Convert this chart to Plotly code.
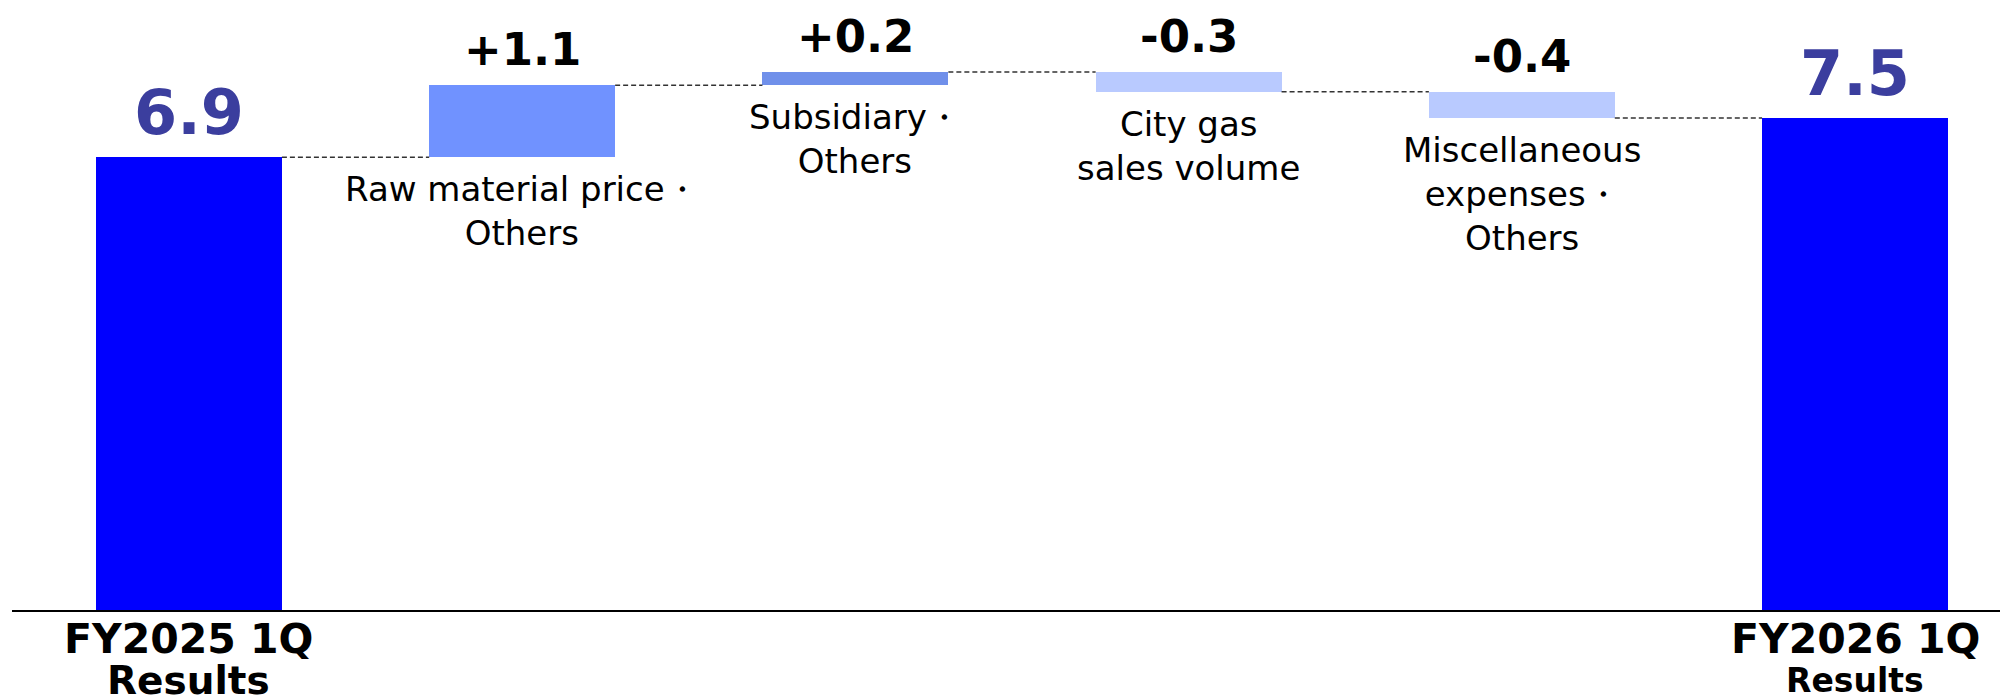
import plotly.graph_objects as go

# ---- data ----
categories = ["FY2025 1Q Results", "Raw material price・Others", "Subsidiary・Others",
              "City gas sales volume", "Miscellaneous expenses・Others", "FY2026 1Q Results"]
values = [6.9, 1.1, 0.2, -0.3, -0.4, 7.5]
measures = ["absolute", "relative", "relative", "relative", "relative", "total"]
value_labels = ["6.9", "+1.1", "+0.2", "-0.3", "-0.4", "7.5"]
desc_labels = [None, "Raw material price・<br>Others", "Subsidiary・<br>Others",
               "City gas<br>sales volume", "Miscellaneous<br>expenses・<br>Others", None]
tick_line1 = ["FY2025 1Q", None, None, None, None, "FY2026 1Q"]
tick_line2 = ["Results", None, None, None, None, "Results"]

# ---- styles ----
bar_colors = ["#0000FF", "#7092FF", "#7090EA", "#B9CAFF", "#B9CAFF", "#0000FF"]
total_label_color = "#3B3E9E"
FONT = "DejaVu Sans"
BAR_W = 0.558

# compute floating bars
bases, heights, tops, bottoms = [], [], [], []
running = 0.0
for v, m in zip(values, measures):
    if m == "relative":
        b = running
        running = running + v
        bases.append(b)
        heights.append(v)
    else:
        running = v
        bases.append(0)
        heights.append(v)
    lo, hi = sorted([bases[-1], bases[-1] + heights[-1]])
    bottoms.append(lo)
    tops.append(hi)

xs = list(range(len(categories)))

fig = go.Figure()
fig.add_trace(go.Bar(
    x=xs, y=heights, base=bases, width=BAR_W,
    marker=dict(color=bar_colors, line=dict(width=0)),
    hoverinfo="skip", showlegend=False,
))

# connectors
levels = []
running = 0.0
for v, m in zip(values, measures):
    running = running + v if m == "relative" else v
    levels.append(running)
for i in range(len(xs) - 1):
    fig.add_shape(type="line", xref="x", yref="y",
                  x0=xs[i] + BAR_W / 2, x1=xs[i + 1] - BAR_W / 2,
                  y0=levels[i], y1=levels[i],
                  line=dict(color="#333333", width=1.5, dash="5px,3px"))

annotations = []
for i in xs:
    is_total = measures[i] != "relative"
    annotations.append(dict(
        x=xs[i], y=tops[i], xref="x", yref="y", text=value_labels[i],
        showarrow=False, yanchor="bottom", xanchor="center",
        yshift=6 if is_total else 7,
        font=dict(family=FONT, size=62 if is_total else 45,
                  color=total_label_color if is_total else "#000000",
                  weight="bold"),
    ))
    if desc_labels[i]:
        annotations.append(dict(
            x=xs[i], y=bottoms[i], xref="x", yref="y", text=desc_labels[i],
            showarrow=False, yanchor="top", xanchor="center", yshift=-10,
            font=dict(family=FONT, size=34, color="#000000"),
        ))
    if tick_line1[i]:
        annotations.append(dict(
            x=xs[i], y=0, xref="x", yref="y", text=tick_line1[i],
            showarrow=False, yanchor="top", xanchor="center", yshift=-3,
            height=44, valign="top",
            font=dict(family=FONT, size=41, color="#000000", weight="bold"),
        ))
    if tick_line2[i]:
        small = i == len(xs) - 1
        annotations.append(dict(
            x=xs[i], y=0, xref="x", yref="y", text=tick_line2[i],
            showarrow=False, yanchor="top", xanchor="center",
            yshift=-49 if small else -46,
            font=dict(family=FONT, size=33 if small else 39, color="#000000",
                      weight="bold"),
        ))

fig.update_layout(
    width=2008, height=699,
    margin=dict(l=4, r=8, t=0, b=97),
    paper_bgcolor="white", plot_bgcolor="white",
    annotations=annotations,
    xaxis=dict(range=[-0.531, 5.459], showticklabels=False, showgrid=False,
               zeroline=False, showline=True, linecolor="#000000", linewidth=1.5,
               ticks=""),
    yaxis=dict(range=[0, 9.177], visible=False, showgrid=False, zeroline=False),
    bargap=0,
)

fig.write_html("out.html", config={"displayModeBar": False})
